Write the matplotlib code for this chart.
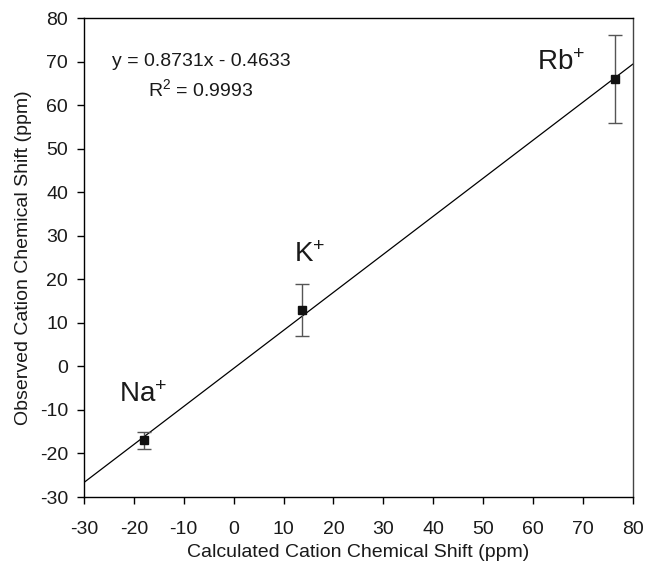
import matplotlib.pyplot as plt
import numpy as np

plt.rcParams['font.family'] = ['Liberation Sans', 'DejaVu Sans']
plt.rcParams['axes.unicode_minus'] = False
plt.rcParams['mathtext.fontset'] = 'custom'
plt.rcParams['mathtext.rm'] = 'Liberation Sans'
plt.rcParams['mathtext.it'] = 'Liberation Sans'

# calculated vs observed cation shifts (ppm)
ions = ["Na", "K", "Rb"]
calc_shift = [-18.0, 13.8, 76.5]
obs_shift = [-17.0, 13.0, 66.0]
obs_err = [2.0, 6.0, 10.0]
label_pos = [(-18.2, -6.6), (15.3, 25.6), (65.7, 69.7)]

slope = 0.8731
intercept = -0.4633
r_squared = 0.9993

fig = plt.figure(figsize=(6.46, 5.70), dpi=100)
ax = fig.add_axes([0.130, 0.128, 0.8494, 0.8404])

fit_x = np.array([-30, 80])
ax.plot(fit_x, slope * fit_x + intercept, color="black", lw=0.9)

ax.errorbar(calc_shift, obs_shift, yerr=obs_err, fmt="s", color="#111111",
            markersize=6, ecolor="#555555", elinewidth=1.0, capsize=5, capthick=1.0)

for name, (lx, ly) in zip(ions, label_pos):
    ax.text(lx, ly, name + r"$^{\mathregular{+}}$", fontsize=20, ha="center", va="center",
            color="#1a1a1a")

ax.text(201.7 / 646, 1 - 61 / 570, f"y = {slope}x - {abs(intercept)}", fontsize=14,
        ha="center", va="center", transform=fig.transFigure, color="#1a1a1a")
ax.text(201 / 646, 1 - 89 / 570, r"R$^{\mathregular{2}}$" + f" = {r_squared}", fontsize=14,
        ha="center", va="center", transform=fig.transFigure, color="#1a1a1a")

ax.set_xlim(-30, 80)
ax.set_ylim(-30, 80)
ax.set_xticks(np.arange(-30, 81, 10))
ax.set_yticks(np.arange(-30, 81, 10))
ax.tick_params(direction="out", length=5, width=1, labelsize=14, labelcolor="#1a1a1a")
ax.tick_params(axis="x", pad=12)
ax.tick_params(axis="y", pad=6.5)

for side in ["left", "bottom", "top", "right"]:
    ax.spines[side].set_linewidth(1.0)
ax.spines["right"].set_color("#444444")

ax.set_xlabel("Calculated Cation Chemical Shift (ppm)", fontsize=14, va="center",
              color="#1a1a1a")
ax.set_ylabel("Observed Cation Chemical Shift (ppm)", fontsize=14, va="center",
              color="#1a1a1a")
ax.xaxis.set_label_coords(0.5, -0.116)
ax.yaxis.set_label_coords(-0.11, 0.5)

fig.savefig("out.png", dpi=100)
